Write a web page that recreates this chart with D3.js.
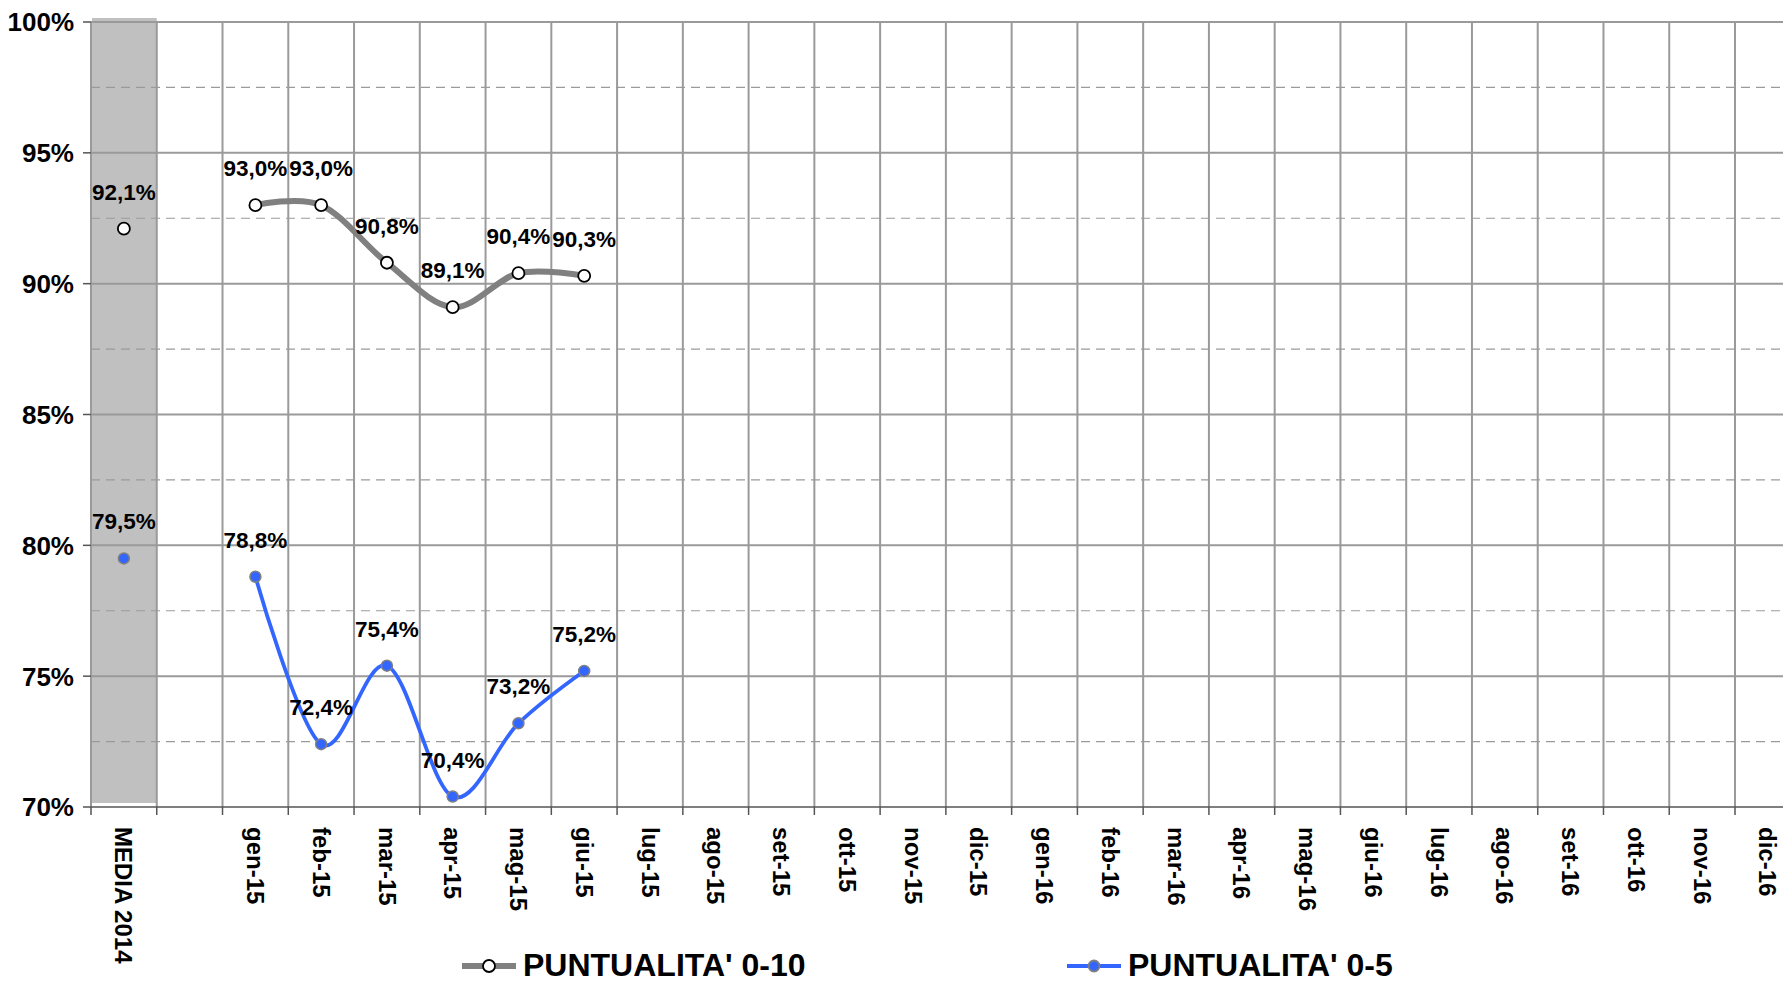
<!DOCTYPE html>
<html><head><meta charset="utf-8">
<script src="https://cdn.jsdelivr.net/npm/d3@7"></script>
<style>
html,body{margin:0;padding:0;background:#fff;overflow:hidden;}
svg{display:block;font-family:"Liberation Sans",Arial,sans-serif;font-weight:bold;}
</style></head>
<body>
<svg id="chart" width="1783" height="984"></svg>
<script>
const categories = ["MEDIA 2014","","gen-15","feb-15","mar-15","apr-15","mag-15","giu-15","lug-15","ago-15","set-15","ott-15","nov-15","dic-15","gen-16","feb-16","mar-16","apr-16","mag-16","giu-16","lug-16","ago-16","set-16","ott-16","nov-16","dic-16"];
const punt010 = [92.1,null,93.0,93.0,90.8,89.1,90.4,90.3,null,null,null,null,null,null,null,null,null,null,null,null,null,null,null,null,null,null];
const punt05  = [79.5,null,78.8,72.4,75.4,70.4,73.2,75.2,null,null,null,null,null,null,null,null,null,null,null,null,null,null,null,null,null,null];
const yTicks = [70,75,80,85,90,95,100];
const yMinor = [72.5,77.5,82.5,87.5,92.5,97.5];
const legendNames = ["PUNTUALITA' 0-10","PUNTUALITA' 0-5"];

(function(){
const svg = d3.select("#chart");
const pLeft = 91, pTop = 22, pBottom = 807, bandW = 65.76;
const x = d3.scaleBand().domain(categories.map((c,i)=>i)).range([pLeft, pLeft + categories.length*bandW]).paddingInner(0).paddingOuter(0);
const y = d3.scaleLinear().domain([70,100]).range([pBottom, pTop]);
const fmt = v => v.toFixed(1).replace(".", ",") + "%";

svg.append("rect").attr("x", x(0)+1).attr("y", pTop-4).attr("width", x.bandwidth()-1).attr("height", pBottom-pTop)
  .attr("fill", "#c0c0c0");

svg.append("g").selectAll("line").data(yMinor).join("line")
  .attr("x1", pLeft).attr("x2", x.range()[1]).attr("y1", d=>y(d)).attr("y2", d=>y(d))
  .attr("stroke", "#9a9a9a").attr("stroke-width", 1.2).attr("stroke-dasharray", "9,6");

svg.append("g").selectAll("line").data(yTicks.filter(d=>d>70)).join("line")
  .attr("x1", pLeft).attr("x2", x.range()[1]).attr("y1", d=>y(d)).attr("y2", d=>y(d))
  .attr("stroke", "#9a9a9a").attr("stroke-width", 2);

const bounds = categories.map((c,i)=>x(i)).concat([x.range()[1]]);
svg.append("g").selectAll("line").data(bounds).join("line")
  .attr("x1", d=>d).attr("x2", d=>d).attr("y1", pTop).attr("y2", pBottom)
  .attr("stroke", "#9a9a9a").attr("stroke-width", 2);

svg.append("line").attr("x1", pLeft).attr("x2", x.range()[1]).attr("y1", pBottom).attr("y2", pBottom)
  .attr("stroke", "#555").attr("stroke-width", 1.5);
svg.append("g").selectAll("line").data(bounds).join("line")
  .attr("x1", d=>d).attr("x2", d=>d).attr("y1", pBottom).attr("y2", pBottom+8)
  .attr("stroke", "#555").attr("stroke-width", 1.5);

svg.append("g").selectAll("line").data(yTicks).join("line")
  .attr("x1", pLeft-8).attr("x2", pLeft).attr("y1", d=>y(d)).attr("y2", d=>y(d))
  .attr("stroke", "#555").attr("stroke-width", 1.5);
svg.append("g").selectAll("text").data(yTicks).join("text")
  .attr("x", pLeft-17).attr("y", d=>y(d)).attr("dy", "0.36em").attr("text-anchor", "end")
  .attr("font-size", 26).attr("fill", "#000").text(d=>d+"%");

svg.append("g").selectAll("text").data(categories).join("text")
  .attr("transform", (d,i)=>`translate(${x(i)+x.bandwidth()/2},${pBottom+20}) rotate(90)`)
  .attr("dy", "0.35em").attr("text-anchor", "start").attr("font-size", 24).attr("fill", "#000")
  .text(d=>d);

const line = d3.line().defined(d=>d.v!=null).x(d=>x(d.i)+x.bandwidth()/2).y(d=>y(d.v)).curve(d3.curveCardinal.tension(0));
const toPts = arr => arr.map((v,i)=>({i, v}));
const lineData = arr => toPts(arr).filter(d=>d.i>=2);

svg.append("path").datum(lineData(punt010)).attr("d", line).attr("fill","none").attr("stroke","#808080").attr("stroke-width",6);
svg.append("path").datum(lineData(punt05)).attr("d", line).attr("fill","none").attr("stroke","#3366ff").attr("stroke-width",3.8);

const pts010 = toPts(punt010).filter(d=>d.v!=null);
const pts05 = toPts(punt05).filter(d=>d.v!=null);

svg.append("g").selectAll("circle").data(pts010).join("circle")
  .attr("cx", d=>x(d.i)+x.bandwidth()/2).attr("cy", d=>y(d.v)).attr("r", 6)
  .attr("fill","#fff").attr("stroke","#000").attr("stroke-width",1.8);
svg.append("g").selectAll("circle").data(pts05).join("circle")
  .attr("cx", d=>x(d.i)+x.bandwidth()/2).attr("cy", d=>y(d.v)).attr("r", 5.5)
  .attr("fill","#3366ff").attr("stroke","#808080").attr("stroke-width",1.5);

svg.append("g").selectAll("text").data(pts010.concat(pts05)).join("text")
  .attr("x", d=>x(d.i)+x.bandwidth()/2).attr("y", d=>y(d.v)-29).attr("text-anchor","middle")
  .attr("font-size", 22.5).attr("fill","#000").text(d=>fmt(d.v));

const legend = [
  {name: legendNames[0], x1: 462, stroke: "#808080", sw: 6, fill: "#fff", mstroke: "#000", r: 6},
  {name: legendNames[1], x1: 1067, stroke: "#3366ff", sw: 4, fill: "#3366ff", mstroke: "#808080", r: 5.5}
];
const lg = svg.append("g").selectAll("g").data(legend).join("g");
lg.append("line").attr("x1", d=>d.x1).attr("x2", d=>d.x1+54).attr("y1", 966).attr("y2", 966)
  .attr("stroke", d=>d.stroke).attr("stroke-width", d=>d.sw);
lg.append("circle").attr("cx", d=>d.x1+27).attr("cy", 966).attr("r", d=>d.r)
  .attr("fill", d=>d.fill).attr("stroke", d=>d.mstroke).attr("stroke-width", 1.8);
lg.append("text").attr("x", d=>d.x1+61).attr("y", 976).attr("font-size", 32).attr("fill","#000").text(d=>d.name);
})();
</script>
</body></html>
